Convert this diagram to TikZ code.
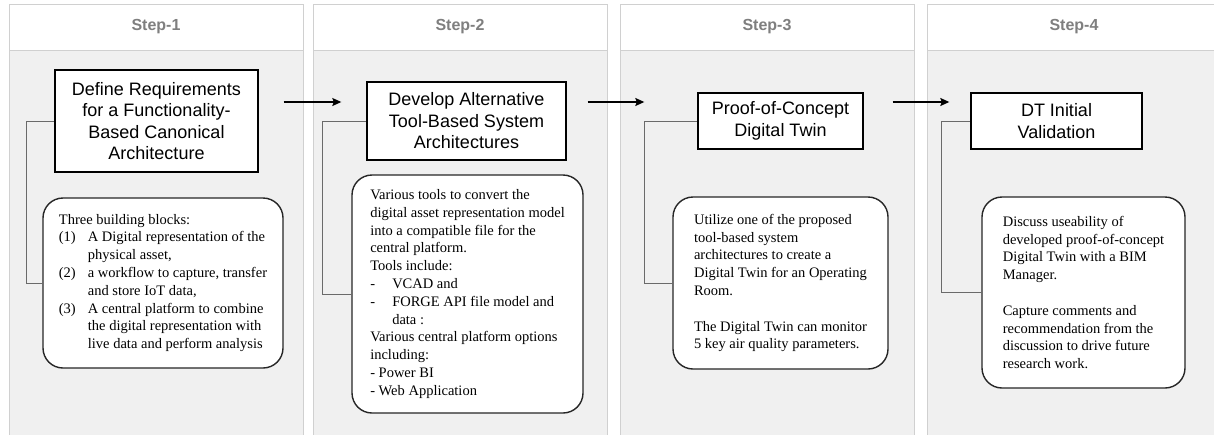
\documentclass[tikz,border=0pt]{standalone}
\usepackage{fontspec}
\setmainfont{Liberation Serif}
\setsansfont{Liberation Sans}
\usetikzlibrary{arrows.meta}
\definecolor{colline}{HTML}{D0D0D0}
\definecolor{colfill}{HTML}{F0F0F0}
\definecolor{headtext}{HTML}{7F7F7F}
\definecolor{linkgray}{HTML}{6A6A6A}
\begin{document}
\begin{tikzpicture}
    [x=1pt,y=-1pt,
     column/.style={draw=colline,fill=colfill,line width=1pt},
     head/.style={draw=colline,fill=white,line width=1pt,minimum width=294pt,minimum height=46pt,
       text=headtext,font=\sffamily\bfseries\fontsize{16}{19}\selectfont},
     task/.style={draw=black,fill=white,line width=1.4pt,align=center,
       font=\sffamily\fontsize{18}{21.5}\selectfont},
     note/.style={draw=black!85,fill=white,line width=1.4pt,rounded corners=20pt,align=left,
       font=\fontsize{14.5}{17.8}\selectfont},
     link/.style={draw=linkgray,line width=1pt,
       to path={(\tikztostart.west) -- ++(-#1,0) |- (\tikztotarget.west)}},
     flow/.style={-{Stealth[length=9pt,width=8pt,inset=1.5pt]},line width=1.3pt}]
    \useasboundingbox (0,0) rectangle (1214,434);
    \foreach \n/\x in {1/9,2/313,3/620,4/927} {
      \draw [column] (\x,50) rectangle ++(294,400);
      \node [head] (S\n) at (\x+147,27) {Step-\n};
    }
    \node [task,minimum width=203pt,minimum height=102pt] (T1) at (156.5,121)
      {Define Requirements\\for a Functionality-\\Based Canonical\\Architecture};
    \node [task,minimum width=199pt,minimum height=78pt] (T2) at (466.5,121)
      {Develop Alternative\\Tool-Based System\\Architectures};
    \node [task,minimum width=165pt,minimum height=56pt] (T3) at (780.5,121)
      {Proof-of-Concept\\Digital Twin};
    \node [task,minimum width=171pt,minimum height=56pt] (T4) at (1056.5,121)
      {DT Initial\\Validation};
    \node [note,minimum width=240pt,minimum height=170pt] (N1) at (163,283)
      {Three building blocks:\\
       \makebox[29pt][l]{(1)}A Digital representation of the\\
       \hspace*{29pt}physical asset,\\
       \makebox[29pt][l]{(2)}a workflow to capture, transfer\\
       \hspace*{29pt}and store IoT data,\\
       \makebox[29pt][l]{(3)}A central platform to combine\\
       \hspace*{29pt}the digital representation with\\
       \hspace*{29pt}live data and perform analysis}
      edge [link=16] (T1);
    \node [note,minimum width=231pt,minimum height=238pt] (N2) at (467.5,294)
      {Various tools to convert the\\
       digital asset representation model\\
       into a compatible file for the\\
       central platform.\\
       Tools include:\\
       \makebox[22pt][l]{-}VCAD and\\
       \makebox[22pt][l]{-}FORGE API file model and\\
       \hspace*{22pt}data :\\
       Various central platform options\\
       including:\\
       - Power BI\\
       - Web Application}
      edge [link=29] (T2);
    \node [note,minimum width=215pt,minimum height=172pt] (N3) at (780.5,283)
      {Utilize one of the proposed\\
       tool-based system\\
       architectures to create a\\
       Digital Twin for an Operating\\
       Room.\\[17.8pt]
       The Digital Twin can monitor\\
       5 key air quality parameters.}
      edge [link=28] (T3);
    \node [note,minimum width=203pt,minimum height=191pt] (N4) at (1083.5,292.5)
      {Discuss useability of\\
       developed proof-of-concept\\
       Digital Twin with a BIM\\
       Manager.\\[17.8pt]
       Capture comments and\\
       recommendation from the\\
       discussion to drive future\\
       research work.}
      edge [link=40] (T4);
    \draw [flow] ([xshift=25pt,yshift=19pt]T1.east) -- ([xshift=-25pt,yshift=19pt]T2.west);
    \draw [flow] ([xshift=21pt,yshift=19pt]T2.east) -- ([xshift=-53pt,yshift=19pt]T3.west);
    \draw [flow] ([xshift=29pt,yshift=19pt]T3.east) -- ([xshift=-21pt,yshift=19pt]T4.west);
  \end{tikzpicture}
\end{document}
